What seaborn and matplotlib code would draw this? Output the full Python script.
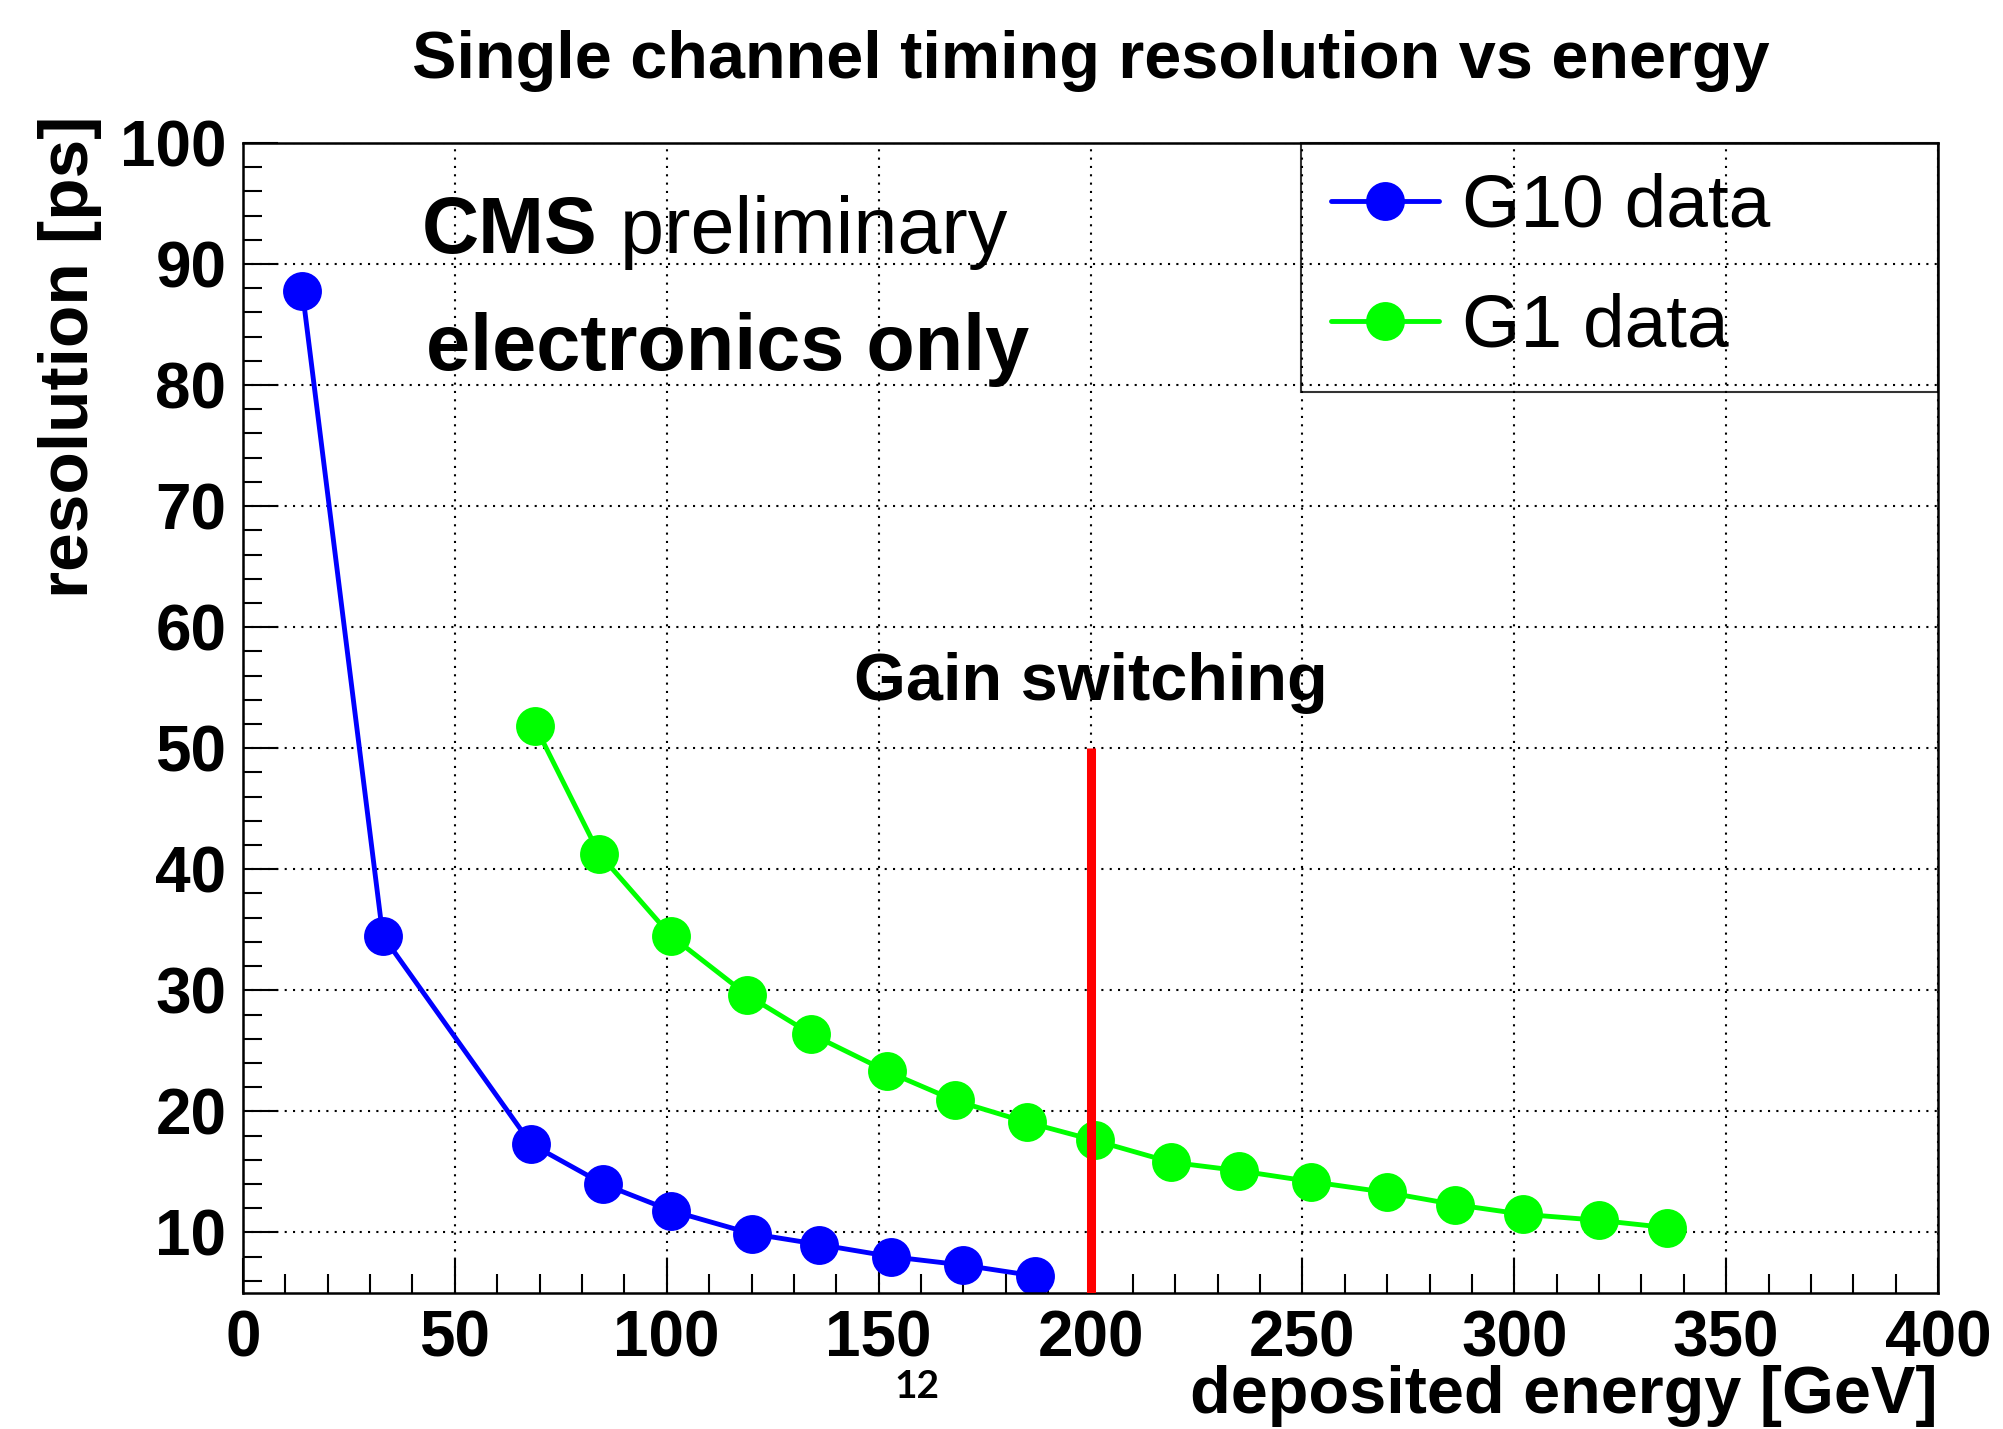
import numpy as np
import pandas as pd
import seaborn as sns
import matplotlib.pyplot as plt
from matplotlib.ticker import MultipleLocator

sns.set_theme(style="white")
plt.rcParams['font.family'] = ['Liberation Sans', 'DejaVu Sans']
plt.rcParams['text.color'] = 'black'
plt.rcParams['axes.labelcolor'] = 'black'
plt.rcParams['xtick.color'] = 'black'
plt.rcParams['ytick.color'] = 'black'

# values
g10_energy = [14, 33, 68, 85, 101, 120, 136, 153, 170, 187]
g10_res = [87.8, 34.5, 17.3, 14.0, 11.8, 9.9, 9.0, 8.0, 7.3, 6.4]
g1_energy = [69, 84, 101, 119, 134, 152, 168, 185, 201, 219, 235, 252, 270, 286, 302, 320, 336]
g1_res = [51.8, 41.3, 34.5, 29.6, 26.4, 23.3, 20.9, 19.1, 17.6, 15.8, 15.1, 14.2, 13.3, 12.3, 11.5, 11.0, 10.4]
series_names = ['G10 data', 'G1 data']
series_colors = ['#0000ff', '#00ff00']
gain_switch_energy = 200
gain_switch_top = 50
x_range = (0, 400)
y_range = (5, 100)

df = pd.concat([
    pd.DataFrame({'energy': g10_energy, 'resolution': g10_res, 'series': series_names[0]}),
    pd.DataFrame({'energy': g1_energy, 'resolution': g1_res, 'series': series_names[1]}),
])

fig = plt.figure(figsize=(20.03, 14.29), dpi=100)
ax = fig.add_axes([0.1213, 0.0952, 0.8463, 0.8048])

sns.lineplot(df, x='energy', y='resolution', hue='series', hue_order=series_names,
             palette=dict(zip(series_names, series_colors)), marker='o',
             markersize=28, markeredgewidth=0, linewidth=3.5, legend=False, ax=ax)

ax.vlines(gain_switch_energy, y_range[0], gain_switch_top, color='#ff0000', linewidth=6.5, zorder=5)

ax.set_xlim(*x_range)
ax.set_ylim(*y_range)
ax.xaxis.set_major_locator(MultipleLocator(50))
ax.xaxis.set_minor_locator(MultipleLocator(10))
ax.yaxis.set_major_locator(MultipleLocator(10))
ax.yaxis.set_minor_locator(MultipleLocator(2))
ax.set_yticks(np.arange(10, 101, 10))
ax.tick_params(which='both', direction='in', width=1.5, color='black', left=True, bottom=True,
               top=False, right=False)
ax.tick_params(which='major', length=25, labelsize=46, pad=12)
ax.tick_params(which='minor', length=14)
for lab in ax.get_xticklabels() + ax.get_yticklabels():
    lab.set_fontweight('bold')

ax.grid(True, which='major', linestyle=(0, (1, 3)), color='black', linewidth=1.5)
ax.set_axisbelow(True)
for sp in ax.spines.values():
    sp.set_color('black')
    sp.set_linewidth(1.8)

ax.set_title('Single channel timing resolution vs energy', fontsize=48, fontweight='bold',
             y=1.056, pad=0)
ax.set_ylabel('resolution [ps]', fontsize=50, fontweight='bold', loc='top')
ax.yaxis.set_label_coords(-0.102, 1.024)
ax.yaxis.label.set_verticalalignment('center')
ax.set_xlabel('deposited energy [GeV]', fontsize=48, fontweight='bold', loc='right')
ax.xaxis.set_label_coords(1.0, -0.063)
ax.xaxis.label.set_verticalalignment('top')

cms = ax.text(42.2, 90.9, 'CMS', fontsize=57, fontweight='bold', va='baseline')
ax.annotate(' preliminary', xy=(1, 0), xycoords=cms, fontsize=57, va='bottom')
ax.text(43.1, 81.2, 'electronics only', fontsize=57, fontweight='bold', va='baseline')
ax.text(gain_switch_energy, 54.0, 'Gain switching', fontsize=48, fontweight='bold',
        ha='center', va='baseline')

leg = ax.legend(handles=ax.lines[:2], labels=series_names, loc='upper right',
                bbox_to_anchor=(0.624, 0, 0.376, 1), mode='expand', borderaxespad=0,
                fontsize=54, fancybox=False, frameon=True, handlelength=1.45,
                handletextpad=0.3, labelspacing=0.68, borderpad=0.4)
leg.get_frame().set_facecolor('none')
leg.get_frame().set_edgecolor('black')
leg.get_frame().set_linewidth(1.5)

fig.text(0.458, 0.030, '12', fontsize=28, fontweight='bold', family=['Lato', 'DejaVu Sans'],
         ha='center', va='center')

fig.savefig('out.png', dpi=100, facecolor='white')
